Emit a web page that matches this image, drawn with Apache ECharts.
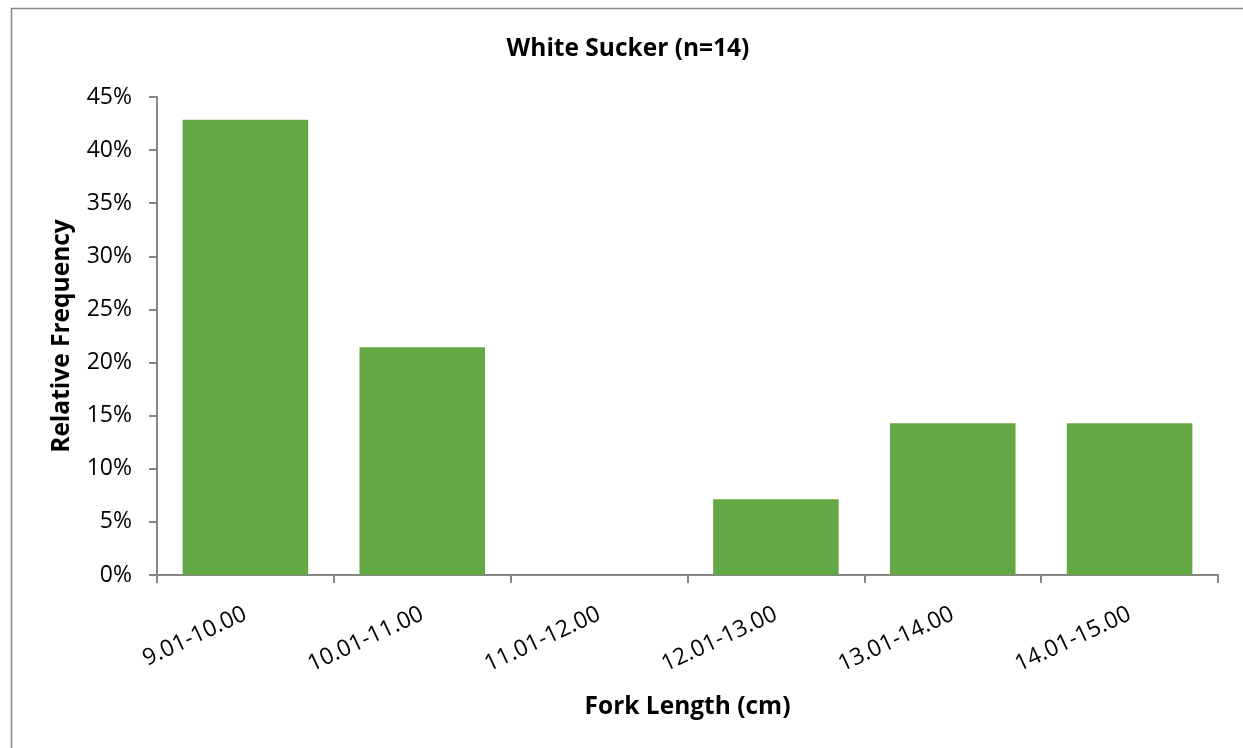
<!DOCTYPE html>
<html><head><meta charset="utf-8">
<script src="https://cdn.jsdelivr.net/npm/echarts@6/dist/echarts.min.js"></script>
<style>html,body{margin:0;padding:0;background:#fff}#c{width:1243px;height:748px}</style>
</head><body><div id="c"></div>
<script>
var categories = ['9.01-10.00','10.01-11.00','11.01-12.00','12.01-13.00','13.01-14.00','14.01-15.00'];
var values = [42.86, 21.43, 0, 7.14, 14.29, 14.29];
var yTicks = [0,5,10,15,20,25,30,35,40,45];
var font = '"Open Sans", "Noto Sans", sans-serif';
var chart = echarts.init(document.getElementById('c'));
chart.setOption({
  animation:false,
  backgroundColor:'#fff',
  graphic:[{type:'rect',left:9,top:6,shape:{width:1400,height:900},style:{fill:'none',stroke:'#888',lineWidth:1.5},z:-1}],
  title:{text:'White Sucker (n=14)',left:623,textAlign:'center',top:32,textStyle:{fontFamily:font,fontSize:24.5,fontWeight:'bold',color:'#000'}},
  grid:{left:157,right:25,top:97,bottom:173},
  xAxis:{type:'category',data:categories,
    name:'Fork Length (cm)',nameLocation:'middle',nameGap:120,
    nameTextStyle:{fontFamily:font,fontSize:24.5,fontWeight:'bold',color:'#000'},
    axisLine:{lineStyle:{color:'#868686',width:2}},
    axisTick:{show:true,length:8,lineStyle:{color:'#868686',width:2}},
    axisLabel:{rotate:25,margin:38,fontFamily:font,fontSize:23,color:'#000'}},
  yAxis:{type:'value',min:0,max:45,interval:5,
    name:'Relative Frequency',nameLocation:'middle',nameGap:82,
    nameTextStyle:{fontFamily:font,fontSize:24.5,fontWeight:'bold',color:'#000'},
    axisLine:{show:true,lineStyle:{color:'#868686',width:2}},
    axisTick:{show:true,length:8,lineStyle:{color:'#868686',width:2}},
    splitLine:{show:false},
    axisLabel:{margin:25,fontFamily:font,fontSize:23,color:'#000',
      formatter:function(v){return yTicks.indexOf(v)>=0? v+'%':'';}}},
  series:[{type:'bar',data:values,barCategoryGap:'29%',
    itemStyle:{color:'#63a845'}}]
});
</script></body></html>
